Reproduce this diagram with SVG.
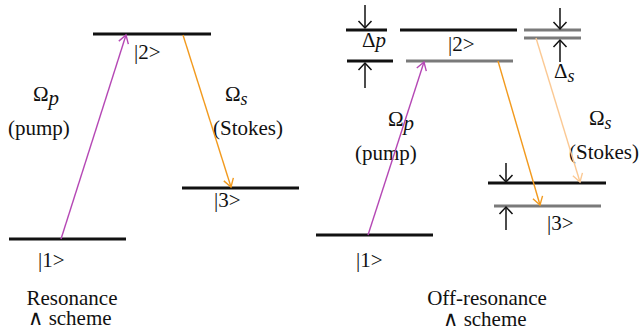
<svg xmlns="http://www.w3.org/2000/svg" width="640" height="336" viewBox="0 0 640 336">
<style>
text{font-family:"Liberation Serif","Times New Roman",serif;font-size:21px;fill:#111}
.lvl{stroke:#111;stroke-width:3}
.gry{stroke:#7a7a7a;stroke-width:3}
.ar{fill:none;stroke-width:1.4}
.blk{stroke:#111;stroke-width:1.5;fill:none}
.it{font-style:italic}
.sub{font-style:italic;font-size:18px}
</style>
<defs>
<marker id="mP" markerUnits="userSpaceOnUse" viewBox="-10 -7 12 14" refX="0" refY="0" markerWidth="12" markerHeight="14" orient="auto"><path d="M-8,-5 L0,0 L-8,5" fill="none" stroke="#b548b5" stroke-width="1.4"/></marker>
<marker id="mO" markerUnits="userSpaceOnUse" viewBox="-10 -7 12 14" refX="0" refY="0" markerWidth="12" markerHeight="14" orient="auto"><path d="M-8,-5 L0,0 L-8,5" fill="none" stroke="#f29a1e" stroke-width="1.4"/></marker>
<marker id="mL" markerUnits="userSpaceOnUse" viewBox="-10 -7 12 14" refX="0" refY="0" markerWidth="12" markerHeight="14" orient="auto"><path d="M-8,-5 L0,0 L-8,5" fill="none" stroke="#fbc994" stroke-width="1.4"/></marker>
<marker id="mK" markerUnits="userSpaceOnUse" viewBox="-10 -8 12 16" refX="0" refY="0" markerWidth="12" markerHeight="16" orient="auto"><path d="M-7,-6.5 L0,0 L-7,6.5" fill="none" stroke="#111" stroke-width="1.5"/></marker>
</defs>

<!-- Left: resonance scheme -->
<g id="L-level2"><line class="lvl" x1="93" y1="34" x2="211" y2="34"/><text x="134" y="59">|2&gt;</text></g>
<g id="L-level3"><line class="lvl" x1="182" y1="188" x2="299" y2="188"/><text x="214" y="207">|3&gt;</text></g>
<g id="L-level1"><line class="lvl" x1="9" y1="239" x2="126" y2="239"/><text x="38" y="267">|1&gt;</text></g>
<g id="L-pump-label"><text x="33" y="101">Ω<tspan class="it" dy="4">p</tspan></text><text x="8" y="135">(pump)</text></g>
<g id="L-stokes-label"><text x="225" y="101">Ω<tspan class="sub" dy="4">s</tspan></text><text x="213" y="135">(Stokes)</text></g>
<g id="L-caption"><text x="72" y="305" text-anchor="middle">Resonance</text><text x="70" y="325" text-anchor="middle">∧ scheme</text></g>

<!-- Right: off-resonance scheme -->
<g id="R-level2"><line class="lvl" x1="400" y1="30" x2="517" y2="30"/><line class="gry" x1="406" y1="61" x2="513" y2="61"/><text x="448" y="51">|2&gt;</text></g>
<g id="R-dp"><line class="lvl" x1="346" y1="30" x2="387" y2="30"/><line class="lvl" x1="347" y1="61" x2="393" y2="61"/><text x="362" y="47">Δ<tspan class="it">p</tspan></text></g>
<g id="R-ds"><line class="gry" x1="524" y1="30" x2="581" y2="30"/><line class="gry" x1="524" y1="38" x2="581" y2="38"/><text x="554" y="78">Δ<tspan class="sub" dy="4">s</tspan></text></g>
<g id="R-level3"><line class="lvl" x1="488" y1="183" x2="606" y2="183"/><line class="gry" x1="494" y1="206" x2="601" y2="206"/><text x="547" y="230">|3&gt;</text></g>
<g id="R-level1"><line class="lvl" x1="316" y1="235" x2="433" y2="235"/><text x="356" y="267">|1&gt;</text></g>
<g id="R-pump-label"><text x="388" y="126">Ω<tspan class="it" dy="4">p</tspan></text><text x="355" y="160">(pump)</text></g>
<g id="R-stokes-label"><text x="589" y="125">Ω<tspan class="sub" dy="4">s</tspan></text><text x="639" y="159" text-anchor="end">(Stokes)</text></g>
<g id="R-caption"><text x="487" y="305" text-anchor="middle">Off-resonance</text><text x="485" y="326" text-anchor="middle">∧ scheme</text></g>

<g id="connectors">
<line class="ar" stroke="#b548b5" x1="61" y1="239" x2="126" y2="35" marker-end="url(#mP)"/>
<line class="ar" stroke="#f29a1e" x1="183" y1="35" x2="231" y2="187" marker-end="url(#mO)"/>
<line class="ar" stroke="#b548b5" x1="368" y1="235" x2="424" y2="62" marker-end="url(#mP)"/>
<line class="ar" stroke="#f29a1e" x1="498" y1="61" x2="540" y2="205" marker-end="url(#mO)"/>
<line class="ar" stroke="#fbc994" x1="536" y1="38" x2="580" y2="182" marker-end="url(#mL)"/>
<line class="blk" x1="365" y1="5" x2="365" y2="28" marker-end="url(#mK)"/>
<line class="blk" x1="365" y1="88" x2="365" y2="63" marker-end="url(#mK)"/>
<line class="blk" x1="560" y1="8" x2="560" y2="29" marker-end="url(#mK)"/>
<line class="blk" x1="560" y1="62" x2="560" y2="40" marker-end="url(#mK)"/>
<line class="blk" x1="506" y1="163" x2="506" y2="182" marker-end="url(#mK)"/>
<line class="blk" x1="506" y1="230" x2="506" y2="207" marker-end="url(#mK)"/>
</g>
</svg>
